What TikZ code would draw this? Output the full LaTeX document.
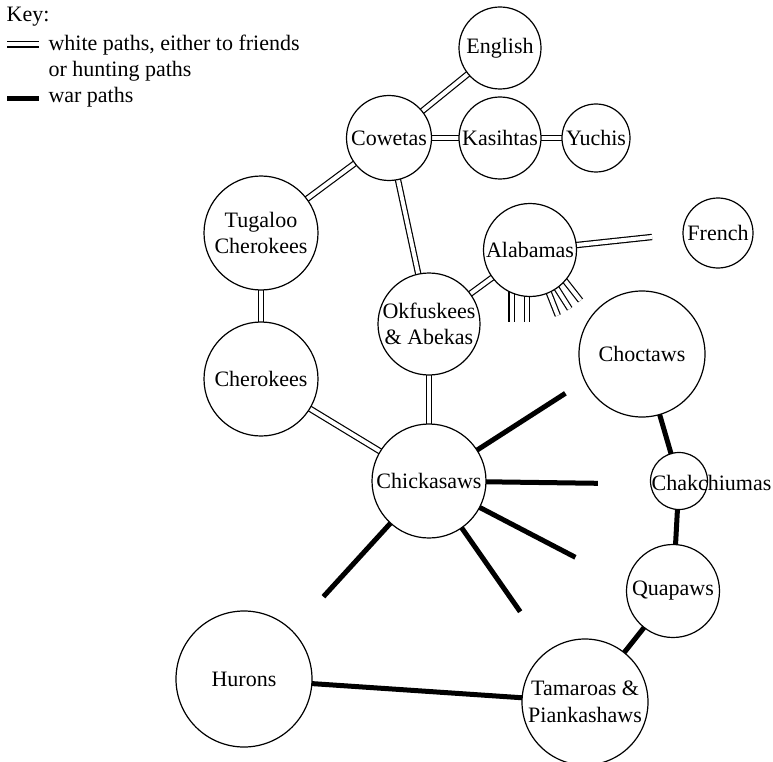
\documentclass[tikz,border=0pt]{standalone}
\usepackage{fontspec}
\setmainfont{Liberation Serif}
\usetikzlibrary{backgrounds}
\begin{document}
\begin{tikzpicture}[x=1pt,y=-1pt,
  circ/.style={circle,draw,line width=1.2pt,fill=white,inner sep=0pt,minimum size=#1},
  lab/.style={align=center,inner sep=0pt,font=\fontsize{22}{26.7}\selectfont},
  whitepath/.style={draw=black,double=white,double distance=4pt,line width=1.2pt},
  warpath/.style={line width=5pt},
  into/.style={shorten <=-3pt,shorten >=-3pt},
  intostart/.style={shorten <=-3pt},
  keytext/.style={anchor=base west,inner sep=0pt,font=\fontsize{22}{26.7}\selectfont}]
\useasboundingbox (0,0) rectangle (773,762);

% circles
\node[circ=82pt] (E) at (500,48) {};
\node[circ=85pt] (Co) at (389,138) {};
\node[circ=82pt] (K) at (500,138) {};
\node[circ=68pt] (Y) at (596,138) {};
\node[circ=114pt] (T) at (261,233) {};
\node[circ=114pt] (Ch) at (261,379) {};
\node[circ=102pt] (O) at (429,324) {};
\node[circ=93pt] (A) at (530,250) {};
\node[circ=70pt] (F) at (718,233) {};
\node[circ=126pt] (Ct) at (642,354) {};
\node[circ=57pt] (Ck) at (679,481) {};
\node[circ=93pt] (Q) at (673,591) {};
\node[circ=126pt] (Ta) at (585,702) {};
\node[circ=136pt] (H) at (244,679) {};
\node[circ=114pt] (Cs) at (429,481) {};

% labels
\node[lab] at (E) {English};
\node[lab] at (Co) {Cowetas};
\node[lab] at (K) {Kasihtas};
\node[lab] at (Y) {Yuchis};
\node[lab] at (T) {Tugaloo\\Cherokees};
\node[lab] at (Ch) {Cherokees};
\node[lab] at (O) {Okfuskees\\\& Abekas};
\node[lab] at (A) {Alabamas};
\node[lab] at (F) {French};
\node[lab] at (Ct) {Choctaws};
\node[lab] at (711.5,483) {Chakchiumas};
\node[lab] at (Q) {Quapaws};
\node[lab] at (Ta) {Tamaroas \&\\Piankashaws};
\node[lab] at (H) {Hurons};
\node[lab] at (Cs) {Chickasaws};

% free ends
\coordinate (af) at (652,237);
\coordinate (s1a) at (511.5,285); \coordinate (s1b) at (511.5,322);
\coordinate (s2a) at (527,285);   \coordinate (s2b) at (527,322);
\coordinate (s3a) at (546.9,287.8); \coordinate (s3b) at (557.8,315.5);
\coordinate (s4a) at (554,284.1); \coordinate (s4b) at (569.7,308.8);
\coordinate (s5a) at (562.7,277.8); \coordinate (s5b) at (580.5,300.5);
\coordinate (w1) at (565.4,393.3);
\coordinate (w2) at (597.8,483.3);
\coordinate (w3) at (575.4,557.3);
\coordinate (w4) at (520.2,611.7);
\coordinate (w5) at (323.4,596.7);

% key
\node[keytext] (k0) at (6.5,21.7) {Key:};
\node[keytext] (k1) at (48.3,50.5) {white paths, either to friends};
\node[keytext] (k2) at (48.3,76.5) {or hunting paths};
\node[keytext] (k3) at (48.3,103) {war paths};
\coordinate (kd1) at (7.3,44.5); \coordinate (kd2) at (39.3,44.5);
\coordinate (kw1) at (7.3,98.8); \coordinate (kw2) at (39.3,98.8);
\draw[whitepath] (kd1) -- (kd2);
\draw[warpath] (kw1) -- (kw2);

\begin{scope}[on background layer]
  \draw[whitepath,into] (Co) -- (E);
  \draw[whitepath,into] (Co) -- (K);
  \draw[whitepath,into] (K) -- (Y);
  \draw[whitepath,into] (Co) -- (T);
  \draw[whitepath,into] (Co) -- (O);
  \draw[whitepath,into] (T) -- (Ch);
  \draw[whitepath,into] (O) -- (A);
  \draw[whitepath,intostart] (A) -- (af);
  \draw[whitepath,into] (O) -- (Cs);
  \draw[whitepath,into] (Ch) -- (Cs);
  \draw[whitepath] (s1a) -- (s1b);
  \draw[whitepath] (s2a) -- (s2b);
  \draw[whitepath] (s3a) -- (s3b);
  \draw[whitepath] (s4a) -- (s4b);
  \draw[whitepath] (s5a) -- (s5b);
  \draw[warpath,intostart] (Cs) -- (w1);
  \draw[warpath,intostart] (Cs) -- (w2);
  \draw[warpath,intostart] (Cs) -- (w3);
  \draw[warpath,intostart] (Cs) -- (w4);
  \draw[warpath,intostart] (Cs) -- (w5);
  \draw[warpath,into] (Ct) -- (Ck);
  \draw[warpath,into] (Ck) -- (Q);
  \draw[warpath,into] (Q) -- (Ta);
  \draw[warpath,into] (H) -- (Ta);
\end{scope}
\end{tikzpicture}
\end{document}
